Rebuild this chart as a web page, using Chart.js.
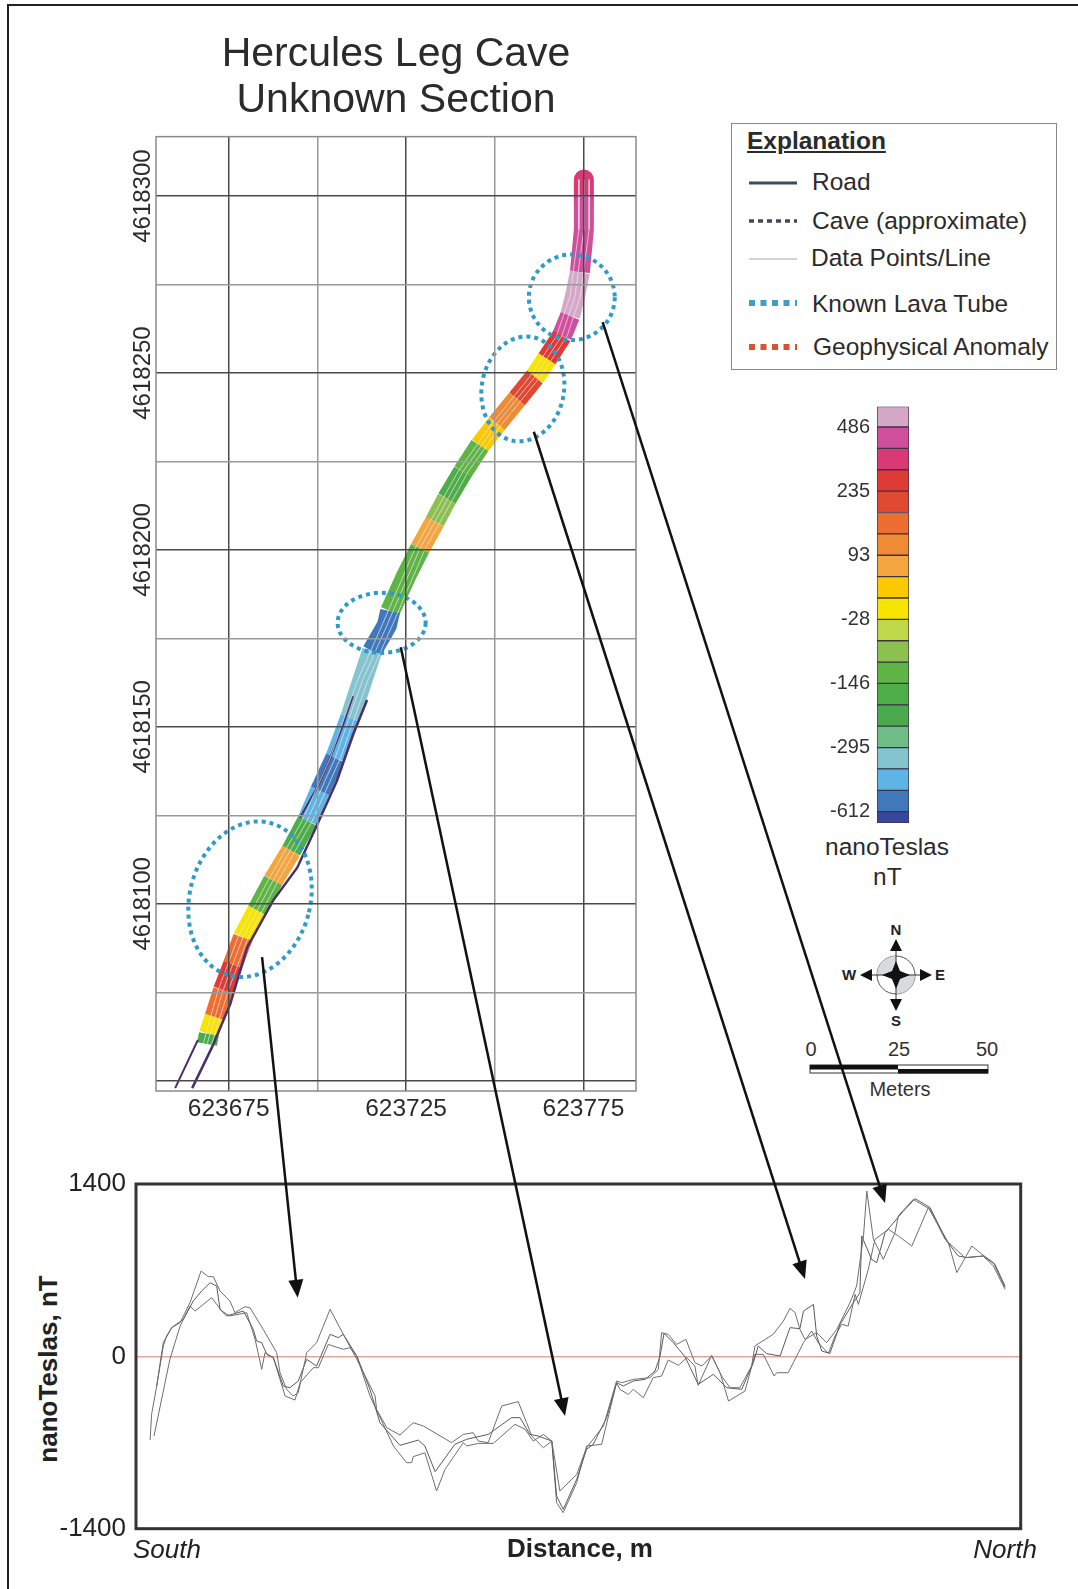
<!DOCTYPE html>
<html>
<head>
<meta charset="utf-8">
<title>Hercules Leg Cave</title>
<script src="https://cdn.jsdelivr.net/npm/chart.js@4"></script>
<style>
  html, body { margin: 0; padding: 0; background: #fff; }
  body { width: 1078px; height: 1589px; position: relative; overflow: hidden; font-family: "Liberation Sans", sans-serif; color: #2b2b2b; }
  canvas { position: absolute; }
  .frame { position: absolute; left: 7px; top: 4px; right: 0; bottom: 0; border-left: 2.5px solid #222; border-top: 2.5px solid #222; }
  .legend { position: absolute; left: 731px; top: 123px; width: 324px; height: 245px; border: 1px solid #888; }
  .txt { position: absolute; white-space: nowrap; font-size: 24.5px; line-height: 28px; transform: translateY(-50%); }
  .ytitle { position: absolute; left: 47.5px; top: 1369px; white-space: nowrap; font-size: 26px; font-weight: bold; color: #222; transform: translate(-50%, -50%) rotate(-90deg); }
</style>
</head>
<body>
<div class="frame"></div>
<div class="legend"></div>
<div class="txt" style="left:747px;top:141px;font-weight:bold;text-decoration:underline">Explanation</div>
<div class="txt" style="left:812px;top:182px">Road</div>
<div class="txt" style="left:812px;top:221px">Cave (approximate)</div>
<div class="txt" style="left:811px;top:258px">Data Points/Line</div>
<div class="txt" style="left:812px;top:304px">Known Lava Tube</div>
<div class="txt" style="left:813px;top:347px">Geophysical Anomaly</div>
<div class="txt" style="left:825px;top:847px">nanoTeslas</div>
<div class="txt" style="left:873px;top:877px">nT</div>
<div class="ytitle">nanoTeslas, nT</div>
<svg width="1078" height="1589" style="position:absolute;left:0;top:0" font-family="Liberation Sans">
  <!-- legend samples -->
  <line x1="749" x2="797" y1="183" y2="183" stroke="#3f4a55" stroke-width="3"/>
  <line x1="749" x2="797" y1="221" y2="221" stroke="#3f4a55" stroke-width="3.5" stroke-dasharray="5 4"/>
  <line x1="749" x2="797" y1="259" y2="259" stroke="#cfd3da" stroke-width="2"/>
  <line x1="749" x2="797" y1="303" y2="303" stroke="#3f9ccb" stroke-width="6" stroke-dasharray="6 5.5"/>
  <line x1="749" x2="797" y1="347" y2="347" stroke="#d9512e" stroke-width="6" stroke-dasharray="6 5.5"/>
  <!-- compass -->
  <circle cx="896" cy="975" r="19" fill="#fff" stroke="#555" stroke-width="1"/>
  <path d="M896 975 L896 956 A19 19 0 0 0 877 975 Z M896 975 L896 994 A19 19 0 0 0 915 975 Z" fill="#d8dade"/>
  <line x1="896" x2="896" y1="950" y2="1000" stroke="#333"/>
  <line x1="871" x2="921" y1="975" y2="975" stroke="#333"/>
  <path d="M896 961 L900 971 L910 975 L900 979 L896 989 L892 979 L882 975 L892 971 Z" fill="#111"/>
  <path d="M896 939 L902 951 L890 951 Z M896 1011 L902 999 L890 999 Z M860 975 L872 969 L872 981 Z M932 975 L920 969 L920 981 Z" fill="#111"/>
  <g font-size="15" font-weight="bold" fill="#222" text-anchor="middle">
    <text x="896" y="935">N</text>
    <text x="896" y="1026">S</text>
    <text x="849" y="980">W</text>
    <text x="940" y="980">E</text>
  </g>
  <!-- scale bar -->
  <rect x="810" y="1065" width="178" height="8" fill="#fff" stroke="#333" stroke-width="1"/>
  <rect x="810" y="1065" width="88" height="4.5" fill="#111"/>
  <rect x="898" y="1069" width="90" height="4.5" fill="#111"/>
  <g font-size="20" fill="#333" text-anchor="middle">
    <text x="811" y="1056">0</text>
    <text x="899" y="1056">25</text>
    <text x="987" y="1056">50</text>
    <text x="900" y="1096">Meters</text>
  </g>
</svg>
<canvas id="colorbar" width="120" height="480" style="left:800px;top:376px"></canvas>
<canvas id="map" width="1078" height="1589" style="left:0;top:0"></canvas>
<canvas id="profile" width="1078" height="1589" style="left:0;top:0"></canvas>

<script>
// Map grid (UTM metres)
const mapEastings = [623675, 623700, 623725, 623750, 623775];
const mapNorthings = [4618050, 4618075, 4618100, 4618125, 4618150, 4618175, 4618200, 4618225, 4618250, 4618275, 4618300];
const mapEastLabels = [623675, 623725, 623775];
const mapNorthLabels = [4618100, 4618150, 4618200, 4618250, 4618300];
const mapMajorEast = [623675, 623725, 623775];
const mapMajorNorth = [4618050, 4618100, 4618150, 4618200, 4618250, 4618300];

// Magnetic survey swath: centre line and colour class at each point
const swathEast = [623775.1, 623775.1, 623775.1, 623774.0, 623772.6, 623771.2, 623768.9, 623764.7, 623761.3, 623756.3, 623750.6, 623745.8, 623741.0, 623736.5, 623733.1, 623728.9, 623724.7, 623720.5, 623719.6, 623715.4, 623712.6, 623709.2, 623705.0, 623700.7, 623697.1, 623692.6, 623687.5, 623683.0, 623679.0, 623676.2, 623673.4, 623671.0, 623669.4, 623668.9];
const swathNorth = [4618304.7, 4618297.7, 4618290.6, 4618278.5, 4618271.7, 4618266.1, 4618260.5, 4618254.0, 4618248.9, 4618242.7, 4618235.7, 4618229.5, 4618222.1, 4618214.5, 4618208.0, 4618200.4, 4618192.0, 4618182.7, 4618178.7, 4618171.4, 4618162.9, 4618152.5, 4618141.2, 4618131.9, 4618123.5, 4618115.0, 4618106.6, 4618098.1, 4618090.5, 4618082.9, 4618075.6, 4618068.0, 4618063.2, 4618060.4];
const swathBand = [2, 1, 1, 0, 0, 1, 3, 9, 4, 6, 8, 12, 13, 11, 7, 12, 12, 18, 18, 16, 16, 17, 18, 17, 13, 7, 12, 9, 5, 3, 5, 9, 14, 14];

// Data lines across the swath
const dataLine1East = [623773.7, 623773.7, 623771.2, 623767.4, 623759.8, 623749.2, 623739.6, 623727.5, 623718.2, 623711.2, 623703.6, 623695.7, 623686.1, 623677.6, 623672.0, 623667.8];
const dataLine2East = [623775.1, 623775.1, 623772.6, 623768.9, 623761.3, 623750.6, 623741.0, 623728.9, 623719.6, 623712.6, 623705.0, 623697.1, 623687.5, 623679.0, 623673.4, 623668.9];
const dataLine3East = [623776.6, 623776.6, 623774.1, 623770.4, 623762.8, 623752.1, 623742.5, 623730.4, 623721.1, 623714.1, 623706.5, 623698.6, 623689.0, 623680.5, 623674.9, 623670.2];
const dataLineNorth = [4618304.7, 4618290.6, 4618271.7, 4618260.5, 4618248.9, 4618235.7, 4618222.1, 4618200.4, 4618178.7, 4618162.9, 4618141.2, 4618123.5, 4618106.6, 4618090.5, 4618075.6, 4618060.4];

// Roads
const roadRightEast = [623664.7, 623670.3, 623675.4, 623680.2, 623687.5, 623694.3, 623699.9, 623705.5, 623710.0, 623714.0];
const roadRightNorth = [4618047.9, 4618059.5, 4618071.6, 4618087.7, 4618100.9, 4618110.2, 4618122.3, 4618134.8, 4618147.7, 4618157.6];
const roadLeftEast = [623659.9, 623666.3, null, 623695.1, 623699.9, 623703.6, 623707.2, 623710.0];
const roadLeftNorth = [4618047.9, 4618061.5, null, 4618124.3, 4618132.8, 4618141.2, 4618150.5, 4618158.7];

// Known lava tube ellipses (centre, radii in metres, tilt in degrees)
const tubeEast = [623771.7, 623757.9, 623718.1, 623681.0];
const tubeNorth = [4618271.4, 4618245.5, 4618179.4, 4618101.3];
const tubeRadiusEast = [12.1, 11.6, 12.4, 17.0];
const tubeRadiusNorth = [12.1, 14.9, 8.5, 22.3];
const tubeTilt = [0, 10, 0, 15];

// Colour bar
const bandColors = ["#d6a8c8", "#cf4f9c", "#d93a75", "#df3a35", "#e0482f", "#ec6f31", "#ef8a35", "#f2a63d", "#fcc900", "#f7e400", "#bfd84a", "#8cc152", "#5fb446", "#4dae47", "#4aaa4c", "#6fbc86", "#84c4cf", "#5cb5e4", "#3f78bb", "#35479f"];
const bandHeights = [0.96, 1, 1, 1, 1, 1, 1, 1, 1, 1, 1, 1, 1, 1, 1, 1, 1, 1, 1, 0.53];
const barTickAt = [18.53, 15.53, 12.53, 9.53, 6.53, 3.53, 0.53];
const barTickLabels = ["486", "235", "93", "-28", "-146", "-295", "-612"];

// Profiles: distance in m, field in nT
const profileADist = [4.7, 5.2, 6.9, 9.1, 10.2, 11.9, 14.7, 18.0, 21.7, 24.1, 25.8, 28.0, 31.3, 33.0, 36.3, 38.0, 42.4, 46.9, 48.0, 50.2, 52.4, 54.1, 56.9, 60.2, 64.7, 69.1, 73.6, 79.7, 80.2, 83.6, 88.0, 92.4, 95.8, 105.2, 109.1, 112.4, 114.1, 117.4, 121.9, 127.4, 130.2, 131.9, 135.8, 138.6, 141.3, 146.9, 150.2, 155.8, 160.2, 161.9, 165.8, 171.3, 174.1, 175.2, 177.4, 180.2, 183.3, 186.3, 188.6, 191.9, 195.2, 198.0, 201.3, 205.2, 206.3, 208.0, 212.4, 215.8, 218.0, 219.7, 221.3, 223.0, 226.9, 230.2, 233.6, 238.0, 240.2, 242.5, 243.6, 245.8, 249.1, 253.0, 254.1, 259.1, 264.7, 269.7, 276.3, 282.4, 285.8, 289.7];
const profileANt = [-680, -471, -241, 84, 165, 233, 274, 436, 693, 647, 647, 531, 450, 355, 403, 395, 219, 30, -133, -268, -322, -295, 30, 111, 382, 179, -24, -322, -431, -580, -639, -539, -566, -701, -634, -620, -688, -701, -403, -368, -539, -647, -742, -688, -1094, -959, -742, -566, -200, -214, -187, -173, -106, 192, 179, 97, 138, -51, -79, 3, -160, -255, -255, -79, 84, 111, 179, 287, 390, 355, 219, 138, 192, 111, 219, 436, 571, 978, 1343, 950, 788, 1005, 1140, 1275, 1194, 950, 802, 815, 734, 544];
const profileBDist = [6.9, 9.1, 11.9, 15.8, 19.1, 21.9, 24.7, 26.9, 28.0, 30.2, 35.8, 39.1, 40.2, 41.9, 43.6, 45.8, 49.1, 51.3, 54.1, 56.9, 60.2, 64.7, 67.4, 69.1, 73.6, 78.0, 81.3, 88.0, 94.1, 96.3, 99.7, 106.3, 110.2, 117.4, 125.2, 128.0, 131.3, 134.1, 138.6, 140.2, 142.4, 146.9, 150.2, 152.4, 156.9, 160.2, 162.4, 165.8, 169.7, 173.0, 174.7, 176.0, 179.1, 183.0, 187.4, 192.5, 196.9, 201.9, 205.8, 207.4, 210.2, 214.7, 218.0, 221.3, 222.5, 225.8, 226.9, 228.6, 231.3, 234.7, 239.1, 241.3, 241.9, 245.2, 246.9, 249.7, 255.8, 259.7, 264.7, 270.2, 274.1, 276.9, 282.4, 286.3, 289.7];
const profileBNt = [-241, 111, 233, 301, 450, 531, 598, 571, 382, 328, 368, 219, 125, 111, 16, -11, -241, -255, -200, -24, -79, 179, 152, 179, 3, -268, -539, -723, -680, -728, -937, -715, -674, -634, -498, -498, -634, -647, -688, -1135, -1243, -999, -755, -715, -498, -214, -241, -200, -187, -119, 3, 187, 111, -3, -227, -146, -255, -268, -51, 84, 22, 3, 233, 225, 368, 422, 165, 43, 24, 260, 436, 517, 978, 788, 761, 1005, 1180, 1281, 1208, 937, 815, 802, 815, 747, 571];
const profileCDist = [6.0, 11.3, 14.7, 18.0, 19.7, 25.2, 28.6, 31.3, 36.9, 39.7, 41.9, 43.0, 45.8, 49.7, 53.0, 54.7, 59.1, 60.8, 64.1, 69.1, 71.3, 73.6, 78.0, 85.8, 90.2, 91.9, 92.4, 96.3, 100.2, 103.0, 109.1, 110.2, 114.1, 119.1, 126.3, 129.7, 132.4, 135.8, 138.6, 140.2, 142.4, 146.9, 150.2, 155.2, 160.2, 161.3, 164.1, 165.8, 169.1, 172.4, 175.2, 177.4, 180.8, 183.6, 186.3, 187.4, 191.9, 194.7, 197.5, 203.0, 206.3, 209.1, 212.7, 213.6, 217.4, 222.5, 225.2, 227.4, 230.8, 233.0, 235.2, 237.4, 239.7, 240.8, 244.1, 246.3, 250.8, 254.1, 258.6, 264.1, 270.8, 273.6, 278.6, 282.0, 285.8, 289.7];
const profileCNt = [-647, -24, 246, 409, 368, 477, 368, 328, 355, 138, -106, 30, -11, -322, -355, -214, -92, -92, 97, 57, 70, 3, -322, -728, -864, -864, -815, -783, -1094, -918, -701, -728, -707, -707, -552, -593, -688, -634, -688, -1189, -1270, -1026, -728, -715, -214, -268, -309, -268, -336, -173, -160, -30, -73, -11, -79, -236, 8, -133, -363, -282, 16, 16, -160, -133, -133, 111, 206, 111, 24, 165, 260, 246, 504, 422, 707, 950, 1032, 978, 896, 1208, 923, 680, 896, 829, 761, 558];
const profileTickAt = [-1400, 0, 1400];
const profileXTickAt = [10.3, 148, 289.7];
const profileXLabels = ["South", "Distance, m", "North"];

// Arrows from an anomaly on the map to its place on the profile
const arrowFromEast = [623684.4, 623723.5, 623761.0, 623780.4];
const arrowFromNorth = [4618084.9, 4618172.5, 4618233.4, 4618264.4];
const arrowToDist = [53.9, 143.0, 223.0, 249.7];
const arrowToNt = [476, -485, 628, 1246];

Chart.defaults.font.family = '"Liberation Sans", sans-serif';
Chart.defaults.color = "#2b2b2b";
Chart.defaults.animation = false;

function pairs(xs, ys) {
  return xs.map((x, i) => ({ x: x, y: ys[i] }));
}

const framePlugin = {
  id: "frame",
  afterDraw(chart, args, opts) {
    const a = chart.chartArea, ctx = chart.ctx;
    ctx.save();
    ctx.strokeStyle = opts.color;
    ctx.lineWidth = opts.width;
    ctx.strokeRect(a.left, a.top, a.right - a.left, a.bottom - a.top);
    ctx.restore();
  }
};

// Dotted ellipses around the known lava tubes
const tubePlugin = {
  id: "tubes",
  afterDatasetsDraw(chart) {
    const ctx = chart.ctx, sx = chart.scales.x, sy = chart.scales.y;
    ctx.save();
    ctx.strokeStyle = "#2f9bcb";
    ctx.lineWidth = 4;
    ctx.setLineDash([4, 4]);
    tubeEast.forEach((e, i) => {
      const cx = sx.getPixelForValue(e);
      const cy = sy.getPixelForValue(tubeNorth[i]);
      const rx = Math.abs(sx.getPixelForValue(e + tubeRadiusEast[i]) - cx);
      const ry = Math.abs(sy.getPixelForValue(tubeNorth[i] + tubeRadiusNorth[i]) - cy);
      ctx.beginPath();
      ctx.ellipse(cx, cy, rx, ry, tubeTilt[i] * Math.PI / 180, 0, Math.PI * 2);
      ctx.stroke();
    });
    ctx.restore();
  }
};

// First dataset is drawn on top
const mapChart = new Chart(document.getElementById("map"), {
  type: "line",
  data: {
    datasets: [
      { label: "Data Points/Line", data: pairs(dataLine1East, dataLineNorth), borderColor: "rgba(240,230,240,0.7)", borderWidth: 1, pointRadius: 0 },
      { label: "Data Points/Line", data: pairs(dataLine2East, dataLineNorth), borderColor: "rgba(240,230,240,0.7)", borderWidth: 1, pointRadius: 0 },
      { label: "Data Points/Line", data: pairs(dataLine3East, dataLineNorth), borderColor: "rgba(240,230,240,0.7)", borderWidth: 1, pointRadius: 0 },
      { label: "Road", data: pairs(roadRightEast, roadRightNorth), borderColor: "#4a2f6b", borderWidth: 2.5, pointRadius: 0 },
      { label: "Road", data: pairs(roadLeftEast, roadLeftNorth), borderColor: "#4a2f6b", borderWidth: 2, pointRadius: 0, spanGaps: false },
      {
        label: "Magnetic anomaly",
        data: pairs(swathEast, swathNorth),
        borderWidth: 20,
        borderCapStyle: "butt",
        borderJoinStyle: "round",
        pointRadius: 0,
        segment: { borderColor: c => bandColors[swathBand[c.p0DataIndex]] }
      }
    ]
  },
  options: {
    responsive: false,
    layout: { padding: { left: 116, right: 442, top: 31, bottom: 458 } },
    scales: {
      x: {
        type: "linear",
        min: 623654.5,
        max: 623789.8,
        afterBuildTicks: s => { s.ticks = mapEastings.map(v => ({ value: v })); },
        afterFit: s => { s.height = 40; },
        grid: {
          z: 1,
          drawTicks: false,
          color: c => mapMajorEast.includes(c.tick.value) ? "#4a4a4a" : "#9a9a9a",
          lineWidth: 1.5
        },
        border: { display: false },
        ticks: {
          autoSkip: false,
          maxRotation: 0,
          padding: 4,
          font: { size: 24.5 },
          callback: v => mapEastLabels.includes(v) ? String(v) : ""
        }
      },
      y: {
        type: "linear",
        min: 4618047.1,
        max: 4618316.8,
        afterBuildTicks: s => { s.ticks = mapNorthings.map(v => ({ value: v })); },
        afterFit: s => { s.width = 40; },
        grid: {
          z: 1,
          drawTicks: false,
          color: c => mapMajorNorth.includes(c.tick.value) ? "#4a4a4a" : "#9a9a9a",
          lineWidth: 1.5
        },
        border: { display: false },
        ticks: {
          autoSkip: false,
          minRotation: 90,
          crossAlign: "center",
          padding: -34,
          font: { size: 24 },
          callback: v => mapNorthLabels.includes(v) ? String(v) : ""
        }
      }
    },
    plugins: {
      legend: { display: false },
      tooltip: { enabled: false },
      frame: { color: "#8a8a8a", width: 1.5 },
      title: {
        display: true,
        fullSize: false,
        text: ["Hercules Leg Cave", "Unknown Section"],
        font: { size: 41, weight: "normal", lineHeight: 1.137 },
        color: "#2b2b2b",
        padding: { top: 0, bottom: 12.4 }
      }
    }
  },
  plugins: [tubePlugin, framePlugin]
});

new Chart(document.getElementById("colorbar"), {
  type: "bar",
  data: {
    labels: ["nT"],
    datasets: bandColors.map((color, i) => ({
      label: "band " + i,
      data: [bandHeights[i]],
      backgroundColor: color,
      borderColor: "#3c3347",
      borderWidth: 1,
      borderSkipped: false,
      barPercentage: 1,
      categoryPercentage: 1
    })).reverse()
  },
  options: {
    responsive: false,
    layout: { padding: { left: 17, right: 11, top: 30.5, bottom: 33 } },
    scales: {
      x: { stacked: true, display: false },
      y: {
        stacked: true,
        min: 0,
        max: 19.49,
        afterBuildTicks: s => { s.ticks = barTickAt.map(v => ({ value: v })); },
        afterFit: s => { s.width = 60; },
        grid: { display: false, drawTicks: false },
        border: { display: false },
        ticks: {
          autoSkip: false,
          padding: 7,
          font: { size: 20 },
          color: "#333",
          callback: (v, i) => barTickLabels[i]
        }
      }
    },
    plugins: { legend: { display: false }, tooltip: { enabled: false } }
  }
});

// Arrows run from the map's coordinates to the profile's coordinates
const arrowPlugin = {
  id: "arrows",
  afterDraw(chart) {
    const ctx = chart.ctx;
    ctx.save();
    ctx.strokeStyle = "#111";
    ctx.fillStyle = "#111";
    ctx.lineWidth = 2.5;
    arrowFromEast.forEach((e, i) => {
      const x0 = mapChart.scales.x.getPixelForValue(e);
      const y0 = mapChart.scales.y.getPixelForValue(arrowFromNorth[i]);
      const x1 = chart.scales.x.getPixelForValue(arrowToDist[i]);
      const y1 = chart.scales.y.getPixelForValue(arrowToNt[i]);
      const ang = Math.atan2(y1 - y0, x1 - x0);
      ctx.beginPath();
      ctx.moveTo(x0, y0);
      ctx.lineTo(x1 - 14 * Math.cos(ang), y1 - 14 * Math.sin(ang));
      ctx.stroke();
      ctx.save();
      ctx.translate(x1, y1);
      ctx.rotate(ang);
      ctx.beginPath();
      ctx.moveTo(0, 0);
      ctx.lineTo(-18, -7.5);
      ctx.lineTo(-18, 7.5);
      ctx.closePath();
      ctx.fill();
      ctx.restore();
    });
    ctx.restore();
  }
};

new Chart(document.getElementById("profile"), {
  type: "line",
  data: {
    datasets: [
      { label: "Line 1", data: pairs(profileADist, profileANt), borderColor: "#6e6e6e", borderWidth: 1, pointRadius: 0, tension: 0 },
      { label: "Line 2", data: pairs(profileBDist, profileBNt), borderColor: "#5a5a5a", borderWidth: 1, pointRadius: 0, tension: 0 },
      { label: "Line 3", data: pairs(profileCDist, profileCNt), borderColor: "#6e6e6e", borderWidth: 1, pointRadius: 0, tension: 0 }
    ]
  },
  options: {
    responsive: false,
    layout: { padding: { left: 20, right: 57.3, top: 1184, bottom: 10.3 } },
    scales: {
      x: {
        type: "linear",
        min: 0,
        max: 294.9,
        afterBuildTicks: s => { s.ticks = profileXTickAt.map(v => ({ value: v })); },
        afterFit: s => { s.height = 50; },
        grid: { display: false },
        border: { display: false },
        ticks: {
          autoSkip: false,
          maxRotation: 0,
          padding: -2,
          color: "#222",
          font: c => c.index === 1 ? { size: 26, weight: "bold" } : { size: 26, style: "italic" },
          callback: (v, i) => profileXLabels[i]
        }
      },
      y: {
        type: "linear",
        min: -1400,
        max: 1400,
        afterBuildTicks: s => { s.ticks = profileTickAt.map(v => ({ value: v })); },
        afterFit: s => { s.width = 116; },
        grid: {
          drawTicks: false,
          color: c => c.tick.value === 0 ? "#e7a49c" : "rgba(0,0,0,0)",
          lineWidth: 1.5
        },
        border: { display: false },
        ticks: {
          autoSkip: false,
          padding: 10,
          color: "#222",
          font: { size: 26 },
          callback: v => String(v)
        }
      }
    },
    plugins: {
      legend: { display: false },
      tooltip: { enabled: false },
      frame: { color: "#333", width: 3 }
    }
  },
  plugins: [framePlugin, arrowPlugin]
});
</script>
</body>
</html>
